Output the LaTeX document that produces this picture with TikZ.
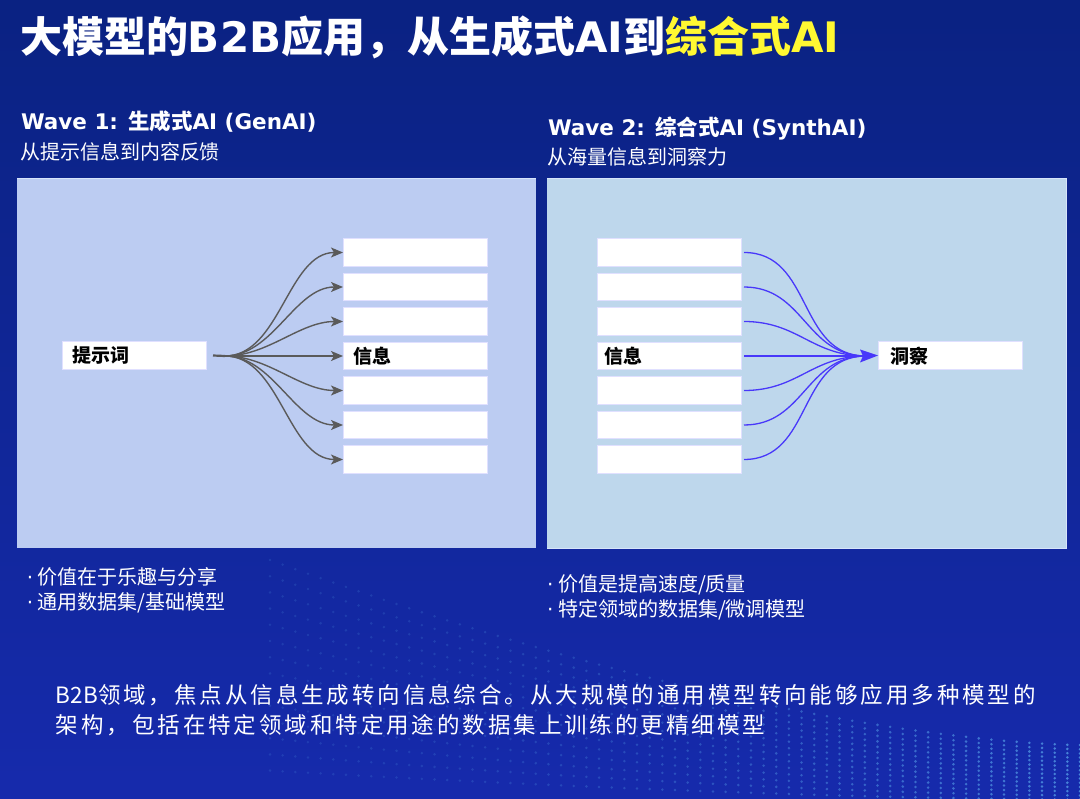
\documentclass[tikz,border=0pt]{standalone}
\usepackage{fontspec}
\setmainfont{Noto Sans CJK SC}
\newfontfamily\parafont{Noto Sans CJK SC}[LetterSpace=13]
\newfontfamily\latf{DejaVu Sans}
\usetikzlibrary{arrows.meta}
\definecolor{bgtop}{RGB}{10,34,130}
\definecolor{bgbot}{RGB}{22,42,172}
\definecolor{ttlyellow}{RGB}{255,248,50}
\definecolor{panelA}{RGB}{188,204,242}
\definecolor{panelB}{RGB}{190,215,236}
\definecolor{panelEdge}{RGB}{215,228,250}
\definecolor{grayarrow}{RGB}{90,90,90}
\definecolor{bluearrow}{RGB}{72,56,250}
\definecolor{dotcol}{RGB}{100,185,245}
\tikzset{
  txt/.style={inner sep=0pt, outer sep=0pt, anchor=base west, text=white},
  infobox/.style={draw=white!88!blue, line width=0.5pt, fill=white, minimum width=144pt, minimum height=27.5pt, inner sep=0pt, outer sep=0pt},
  boxlabel/.style={inner sep=0pt, anchor=base west, text=black, font=\fontsize{19}{19}\selectfont\bfseries},
  garrow/.style={draw=grayarrow, line width=1.4pt, -{Stealth[length=12pt,width=10pt,inset=3pt]}},
  barrow/.style={draw=bluearrow, line width=1.3pt},
}
\newcommand{\bul}{\makebox[11pt][l]{\latf ·}}
\begin{document}
\begin{tikzpicture}[x=1pt,y=-1pt]
\useasboundingbox (0,0) rectangle (1080,799);
\shade[top color=bgtop, bottom color=bgbot] (0,0) rectangle (1080,799);

% decorative dot mesh
\begin{scope}
\clip (0,0) rectangle (1080,799);
\foreach \r in {0,...,13}{
  \foreach \k in {0,...,64}{
    \pgfmathsetmacro{\t}{\k/64}
    \pgfmathsetmacro{\xx}{270+810*\t}
    \pgfmathsetmacro{\yy}{745+\r*4.2-(185-\r*12)*(1-\t)^1.6}
    \pgfmathsetmacro{\op}{0.14+0.5*\t*\t}
    \fill[dotcol, opacity=\op] (\xx,\yy) circle (1.4);
  }
}
\end{scope}

% title
\node[txt] (title) at (20,53) {\fontsize{42}{42}\selectfont\bfseries 大模型的{\latf B2B}应用，从生成式{\latf AI}到\textcolor{ttlyellow}{综合式{\latf AI}}};

% wave headers
\node[txt] (w1) at (21,130) {\fontsize{21.5}{21.5}\selectfont\bfseries {\latf Wave 1: }生成式{\latf AI (GenAI)}};
\node[txt] (w1s) at (20,160) {\fontsize{20}{20}\selectfont 从提示信息到内容反馈};
\node[txt] (w2) at (548,136) {\fontsize{21.5}{21.5}\selectfont\bfseries {\latf Wave 2: }综合式{\latf AI (SynthAI)}};
\node[txt] (w2s) at (547,165) {\fontsize{20}{20}\selectfont 从海量信息到洞察力};

% panels
\fill[panelA] (17,178) rectangle (536,548);
\draw[panelEdge, line width=0.8pt] (17,178) -- (536,178);
\fill[panelB] (547,178) rectangle (1066,548);
\draw[panelEdge, line width=0.8pt] (547,178) -- (1066,178) -- (1066,548) -- (547,548);

% left diagram
\node[infobox, anchor=west] (p) at (62,355.5) {};
\node[boxlabel] (plabel) at (72,363) {提示词};
\coordinate (hub) at (225,356);
\foreach \i/\yy in {1/252.5,2/287,3/321.5,4/356,5/390.5,6/425,7/459.5}{
  \node[infobox, anchor=west] (L\i) at (343,\yy) {};
}
\node[boxlabel] (Llabel) at (353,364) {信息};
\draw[grayarrow, line width=2.2pt] ([xshift=7pt]p.east) -- (hub);
\foreach \i in {1,...,7}{
  \draw[garrow] (hub) to[out=0, in=180, looseness=0.9] (L\i.west);
}

% right diagram
\foreach \i/\yy in {1/252.5,2/287,3/321.5,4/356,5/390.5,6/425,7/459.5}{
  \node[infobox, anchor=west] (R\i) at (597,\yy) {};
}
\node[boxlabel] (Rlabel) at (604,364) {信息};
\node[infobox, anchor=west] (d) at (878,355.5) {};
\node[boxlabel] (dlabel) at (890,364) {洞察};
\coordinate (hub2) at (866,356);
\foreach \i in {1,...,7}{
  \draw[barrow] ([xshift=3pt]R\i.east) to[out=0, in=180, looseness=1.1] (hub2);
}
\fill[bluearrow] (860,349.5) -- (d.west) -- (860,362.5) -- (863,356) -- cycle;

% bullets
\node[txt] (b1) at (27,584) {\fontsize{20}{20}\selectfont\bul 价值在于乐趣与分享};
\node[txt] (b2) at (27,609) {\fontsize{20}{20}\selectfont\bul 通用数据集/基础模型};
\node[txt] (b3) at (547,591) {\fontsize{20}{20}\selectfont\bul 价值是提高速度/质量};
\node[txt] (b4) at (547,616) {\fontsize{20}{20}\selectfont\bul 特定领域的数据集/微调模型};

% paragraph
\node[txt] (para1) at (56,703) {\fontsize{22.5}{22.5}\selectfont B2B\parafont 领域，焦点从信息生成转向信息综合。从大规模的通用模型转向能够应用多种模型的};
\node[txt] (para2) at (56,733) {\parafont\fontsize{22.5}{22.5}\selectfont 架构，包括在特定领域和特定用途的数据集上训练的更精细模型};
\end{tikzpicture}
\end{document}
